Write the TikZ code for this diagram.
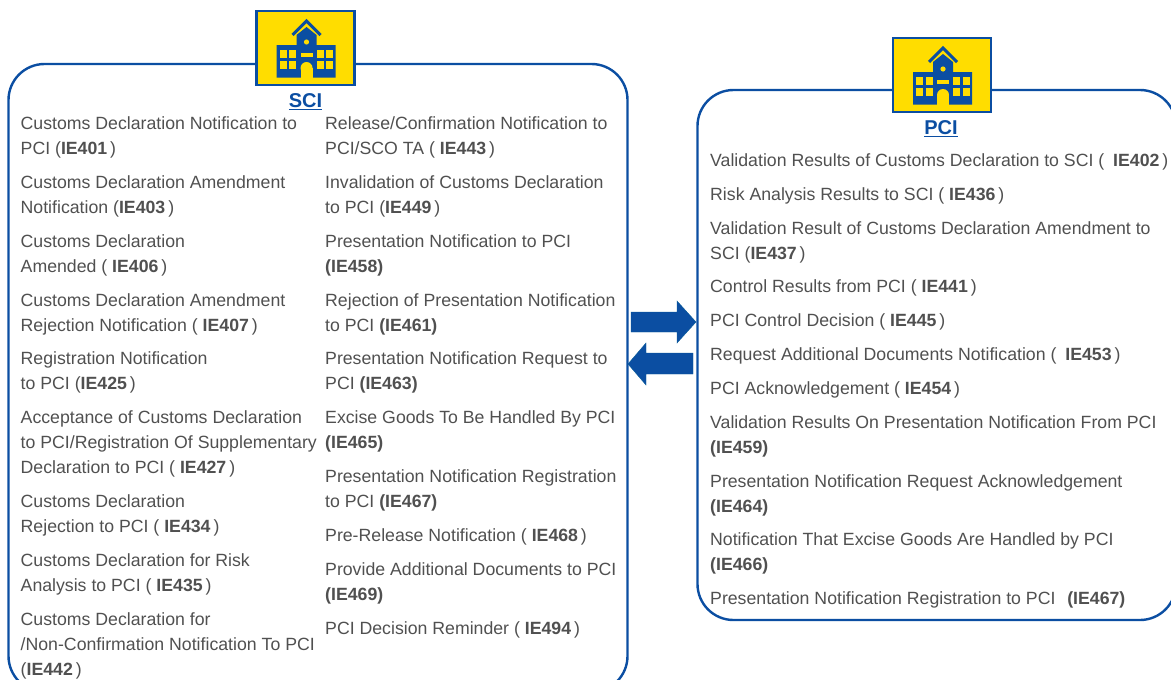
\documentclass[tikz,border=0pt]{standalone}
\usepackage{fontspec}
\setmainfont{Liberation Sans}
\usepackage{tikz}
\definecolor{boxBlue}{HTML}{0B4EA2}
\definecolor{iconYellow}{HTML}{FFDD00}
\definecolor{itemGray}{HTML}{505050}
\newcommand{\ie}[1]{\textbf{#1}\,}
\tikzset{
  schoolIcon/.pic={
    %% The square.
    \draw[draw=boxBlue,fill=iconYellow,line width=2.6pt] (-49,-37) rectangle (49,37);
    %% The roof.
    \draw[draw=boxBlue,line width=3pt] (-13,-13) -- (1,-27) -- (15,-13);
    %% The building.
    \fill[boxBlue] (-29,-3) -- (-9,-3) -- (-9,-13) -- (1,-21) -- (11,-13) -- (11,-3) -- (30,-3) -- (30,29.5) -- (-29,29.5) -- cycle;
    \fill[iconYellow] (1,-6) circle (2.6);
    \fill[iconYellow] (-5,5) rectangle (7,8.5);
    %% The door.
    \fill[iconYellow] (-5,20) rectangle (7,29.5);
    \fill[iconYellow] (1,20) circle (6);
    %% The windows.
    \fill[iconYellow] (-26,2) rectangle (-19,10);
    \fill[iconYellow] (-16.5,2) rectangle (-9.5,10);
    \fill[iconYellow] (-26,13) rectangle (-19,21);
    \fill[iconYellow] (-16.5,13) rectangle (-9.5,21);
    \fill[iconYellow] (11,2) rectangle (18,10);
    \fill[iconYellow] (20.5,2) rectangle (27.5,10);
    \fill[iconYellow] (11,13) rectangle (18,21);
    \fill[iconYellow] (20.5,13) rectangle (27.5,21);
  }
}
\begin{document}
\begin{tikzpicture}[x=1pt,y=-1pt,%%
  boxStyle/.style={draw=boxBlue,line width=2.4pt,rounded corners=36pt},%%
  arrowStyle/.style={fill=boxBlue,draw=boxBlue!70!teal,line width=0.4pt},%%
  itemStyle/.style={anchor=north west,yshift=-3.5pt,inner sep=0pt,align=left,text=itemGray,font=\fontsize{17.7}{25.1}\selectfont},%%
  titleStyle/.style={text=boxBlue,inner sep=0pt,font=\fontsize{20}{22}\bfseries\selectfont}%%
]
%%
\pgfmathsetmacro{\leftCol}{20.5}
\pgfmathsetmacro{\midCol}{325}
\pgfmathsetmacro{\pciCol}{710}
%%
\useasboundingbox (0,0) rectangle (1171,680);
%%
%% The two large boxes.
\draw[boxStyle] (8.5,64) rectangle (627.5,692);
\draw[boxStyle] (697.5,90) rectangle (1176,620);
%%
%% The two icons.
\pic at (305.5,48) {schoolIcon};
\pic at (942,75) {schoolIcon};
\node[titleStyle] (sciTitle) at (305.5,101.5) {\underline{SCI}};
\node[titleStyle] (pciTitle) at (941,128.5) {\underline{PCI}};
%%
%% The exchange arrows.
\draw[arrowStyle] (631,312) -- (677,312) -- (677,301) -- (696,322) -- (677,343) -- (677,332) -- (631,332) -- cycle;
\draw[arrowStyle] (693,353) -- (646,353) -- (646,343) -- (628,364) -- (646,385) -- (646,374) -- (693,374) -- cycle;
%%
%% Left column of the SCI box.
\node[itemStyle] (ieA) at (\leftCol,113) {Customs Declaration Notification to\\PCI (\ie{IE401})};
\node[itemStyle] (ieB) at (\leftCol,172) {Customs Declaration Amendment\\Notification (\ie{IE403})};
\node[itemStyle] (ieC) at (\leftCol,231) {Customs Declaration\\Amended ( \ie{IE406})};
\node[itemStyle] (ieD) at (\leftCol,290) {Customs Declaration Amendment\\Rejection Notification ( \ie{IE407})};
\node[itemStyle] (ieE) at (\leftCol,348) {Registration Notification\\to PCI (\ie{IE425})};
\node[itemStyle] (ieF) at (\leftCol,407) {Acceptance of Customs Declaration\\to PCI/Registration Of Supplementary\\Declaration to PCI ( \ie{IE427})};
\node[itemStyle] (ieG) at (\leftCol,491) {Customs Declaration\\Rejection to PCI ( \ie{IE434})};
\node[itemStyle] (ieH) at (\leftCol,550) {Customs Declaration for Risk\\Analysis to PCI ( \ie{IE435})};
\node[itemStyle] (ieI) at (\leftCol,609) {Customs Declaration for\\/Non-Confirmation Notification To PCI\\(\ie{IE442})};
%%
%% Right column of the SCI box.
\node[itemStyle] (ieJ) at (\midCol,113) {Release/Confirmation Notification to\\PCI/SCO TA ( \ie{IE443})};
\node[itemStyle] (ieK) at (\midCol,172) {Invalidation of Customs Declaration\\to PCI (\ie{IE449})};
\node[itemStyle] (ieL) at (\midCol,231) {Presentation Notification to PCI\\\textbf{(IE458)}};
\node[itemStyle] (ieM) at (\midCol,290) {Rejection of Presentation Notification\\to PCI \textbf{(IE461)}};
\node[itemStyle] (ieN) at (\midCol,348) {Presentation Notification Request to\\PCI \textbf{(IE463)}};
\node[itemStyle] (ieO) at (\midCol,407) {Excise Goods To Be Handled By PCI\\\textbf{(IE465)}};
\node[itemStyle] (ieP) at (\midCol,466) {Presentation Notification Registration\\to PCI \textbf{(IE467)}};
\node[itemStyle] (ieQ) at (\midCol,525) {Pre-Release Notification ( \ie{IE468})};
\node[itemStyle] (ieR) at (\midCol,559) {Provide Additional Documents to PCI\\\textbf{(IE469)}};
\node[itemStyle] (ieS) at (\midCol,618) {PCI Decision Reminder ( \ie{IE494})};
%%
%% The PCI box.
\node[itemStyle] (ieT) at (\pciCol,150) {Validation Results of Customs Declaration to SCI (\enspace\ie{IE402})};
\node[itemStyle] (ieU) at (\pciCol,184) {Risk Analysis Results to SCI ( \ie{IE436})};
\node[itemStyle] (ieV) at (\pciCol,218) {Validation Result of Customs Declaration Amendment to\\SCI (\ie{IE437})};
\node[itemStyle] (ieW) at (\pciCol,276) {Control Results from PCI ( \ie{IE441})};
\node[itemStyle] (ieX) at (\pciCol,310) {PCI Control Decision ( \ie{IE445})};
\node[itemStyle] (ieY) at (\pciCol,344) {Request Additional Documents Notification (\enspace\ie{IE453})};
\node[itemStyle] (ieZ) at (\pciCol,378) {PCI Acknowledgement ( \ie{IE454})};
\node[itemStyle] (ieAa) at (\pciCol,412) {Validation Results On Presentation Notification From PCI\\\textbf{(IE459)}};
\node[itemStyle] (ieAb) at (\pciCol,471) {Presentation Notification Request Acknowledgement\\\textbf{(IE464)}};
\node[itemStyle] (ieAc) at (\pciCol,529) {Notification That Excise Goods Are Handled by PCI\\\textbf{(IE466)}};
\node[itemStyle] (ieAd) at (\pciCol,588) {Presentation Notification Registration to PCI\enspace\,\textbf{(IE467)}};
\end{tikzpicture}
\end{document}
